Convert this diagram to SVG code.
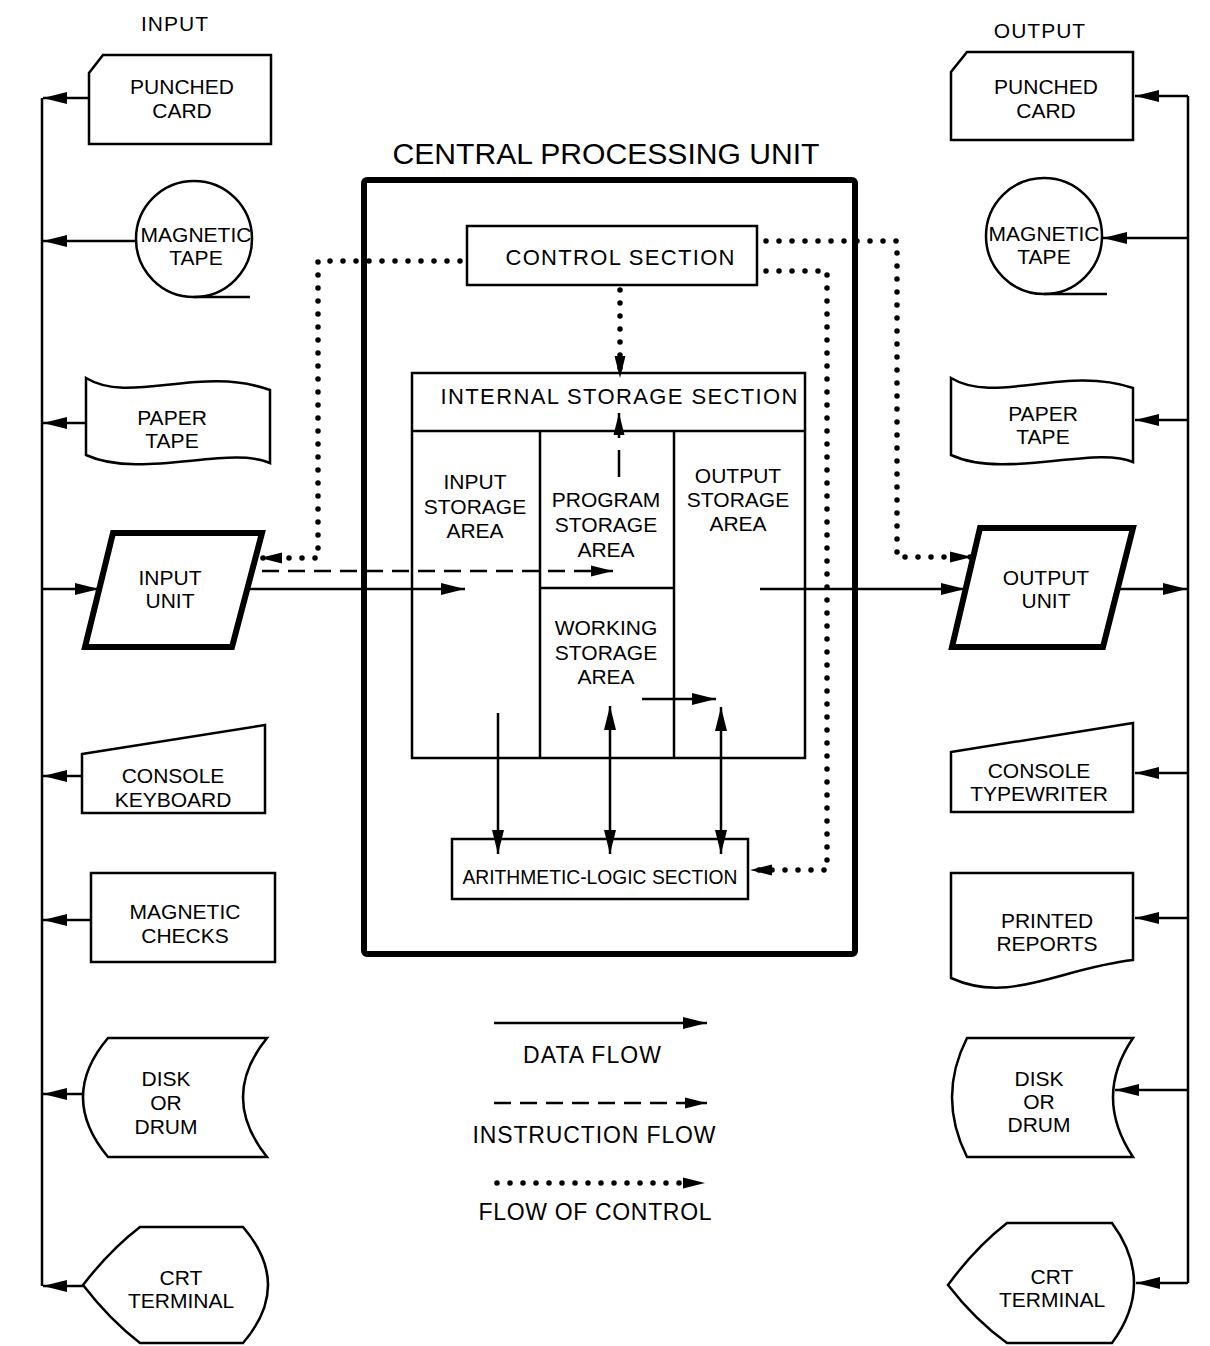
<svg xmlns="http://www.w3.org/2000/svg" width="1210" height="1346" viewBox="0 0 1210 1346">
<defs>
<style>
text{font-family:"Liberation Sans",Arial,sans-serif;font-size:21px;fill:#000;text-anchor:middle}
.shape{fill:#fff;stroke:#000;stroke-width:2.5;stroke-linejoin:miter}
.thick{fill:#fff;stroke:#000;stroke-width:6;stroke-linejoin:miter}
.line{fill:none;stroke:#000;stroke-width:2.5}
.data{fill:none;stroke:#000;stroke-width:2.5;marker-end:url(#arr)}
.dash{fill:none;stroke:#000;stroke-width:2.5;stroke-dasharray:17 9;marker-end:url(#arrS)}
.dot{fill:none;stroke:#000;stroke-width:5.5;stroke-dasharray:0 13;stroke-linecap:round;marker-end:url(#arrS)}
.both{fill:none;stroke:#000;stroke-width:2.5;marker-end:url(#arr);marker-start:url(#arr)}
</style>
<marker id="arr" markerUnits="userSpaceOnUse" markerWidth="24" markerHeight="12" refX="24" refY="6" orient="auto-start-reverse"><path d="M0,0 L24,6 L0,12 Z" fill="#000"/></marker>
<marker id="arrS" markerUnits="userSpaceOnUse" markerWidth="22" markerHeight="12" refX="22" refY="6" orient="auto"><path d="M0,0.5 L22,6 L0,11.5 Z" fill="#000"/></marker>
</defs>
<rect width="1210" height="1346" fill="#fff"/>

<text x="175" y="31" letter-spacing="1">INPUT</text>
<text x="1040" y="38" letter-spacing="1">OUTPUT</text>

<g id="cpu">
<text x="606" y="164" style="font-size:29px" textLength="427" lengthAdjust="spacingAndGlyphs">CENTRAL PROCESSING UNIT</text>
<rect x="364" y="180" width="491" height="774" rx="3" class="thick" fill="none"/>
</g>

<g id="control-section">
<rect x="467" y="226" width="290" height="59" class="shape"/>
<text x="620" y="265" style="font-size:22px" textLength="229" lengthAdjust="spacing">CONTROL SECTION</text>
</g>

<g id="internal-storage">
<rect x="412" y="373" width="393" height="385" class="shape"/>
<line x1="412" y1="431" x2="805" y2="431" class="line"/>
<line x1="540" y1="431" x2="540" y2="758" class="line"/>
<line x1="674" y1="431" x2="674" y2="758" class="line"/>
<line x1="540" y1="588" x2="674" y2="588" class="line"/>
<text x="619" y="404" style="font-size:22px" textLength="357" lengthAdjust="spacing">INTERNAL STORAGE SECTION</text>
</g>
<g id="input-storage">
<text x="475" y="489">INPUT</text><text x="475" y="514">STORAGE</text><text x="475" y="538">AREA</text>
</g>
<g id="program-storage">
<text x="606" y="507">PROGRAM</text><text x="606" y="532">STORAGE</text><text x="606" y="557">AREA</text>
</g>
<g id="output-storage">
<text x="738" y="483">OUTPUT</text><text x="738" y="507">STORAGE</text><text x="738" y="531">AREA</text>
</g>
<g id="working-storage">
<text x="606" y="635">WORKING</text><text x="606" y="660">STORAGE</text><text x="606" y="684">AREA</text>
</g>

<g id="alu">
<rect x="452" y="839" width="296" height="60" class="shape"/>
<text x="600" y="884" textLength="275" lengthAdjust="spacingAndGlyphs">ARITHMETIC-LOGIC SECTION</text>
</g>

<!-- left column -->
<g id="in-punched-card">
<path d="M103,55 L271,55 L271,144 L89,144 L89,73 Z" class="shape"/>
<text x="182" y="94">PUNCHED</text><text x="182" y="118">CARD</text>
</g>
<g id="in-magnetic-tape">
<circle cx="194" cy="239" r="58" class="shape"/>
<line x1="194" y1="297" x2="250" y2="297" class="line"/>
<text x="196" y="242">MAGNETIC</text><text x="196" y="265">TAPE</text>
</g>
<g id="in-paper-tape">
<path d="M86,378 C130,405 200,365 270,390 L270,463 C230,445 140,480 86,455 Z" class="shape"/>
<text x="172" y="425">PAPER</text><text x="172" y="448">TAPE</text>
</g>
<g id="input-unit">
<path d="M113,533 L262,533 L232,647 L85,647 Z" class="thick"/>
<text x="170" y="585">INPUT</text><text x="170" y="608">UNIT</text>
</g>
<g id="console-keyboard">
<path d="M82,754 L265,725 L265,813 L82,813 Z" class="shape"/>
<text x="173" y="783">CONSOLE</text><text x="173" y="807">KEYBOARD</text>
</g>
<g id="magnetic-checks">
<rect x="91" y="873" width="184" height="89" class="shape"/>
<text x="185" y="919">MAGNETIC</text><text x="185" y="943">CHECKS</text>
</g>
<g id="in-disk">
<path d="M108,1038 L267,1038 Q219,1097 267,1157 L108,1157 Q58,1097 108,1038 Z" class="shape"/>
<text x="166" y="1086">DISK</text><text x="166" y="1110">OR</text><text x="166" y="1134">DRUM</text>
</g>
<g id="in-crt">
<path d="M83,1285 Q110,1250 140,1227 L243,1227 Q293,1285 243,1343 L140,1343 Q110,1320 83,1285 Z" class="shape"/>
<text x="181" y="1285">CRT</text><text x="181" y="1308">TERMINAL</text>
</g>

<!-- right column -->
<g id="out-punched-card">
<path d="M967,52 L1133,52 L1133,140 L951,140 L951,72 Z" class="shape"/>
<text x="1046" y="94">PUNCHED</text><text x="1046" y="118">CARD</text>
</g>
<g id="out-magnetic-tape">
<circle cx="1044" cy="236" r="58" class="shape"/>
<line x1="1044" y1="294" x2="1107" y2="294" class="line"/>
<text x="1044" y="241">MAGNETIC</text><text x="1044" y="264">TAPE</text>
</g>
<g id="out-paper-tape">
<path d="M951,378 C995,405 1065,365 1133,388 L1133,462 C1095,445 1005,480 951,455 Z" class="shape"/>
<text x="1043" y="421">PAPER</text><text x="1043" y="444">TAPE</text>
</g>
<g id="output-unit">
<path d="M980,528 L1133,528 L1103,647 L952,647 Z" class="thick"/>
<text x="1046" y="585">OUTPUT</text><text x="1046" y="608">UNIT</text>
</g>
<g id="console-typewriter">
<path d="M951,752 L1133,723 L1133,812 L951,812 Z" class="shape"/>
<text x="1039" y="778">CONSOLE</text><text x="1039" y="801">TYPEWRITER</text>
</g>
<g id="printed-reports">
<path d="M951,873 L1133,873 L1133,960 C1060,968 1010,1005 951,978 Z" class="shape"/>
<text x="1047" y="928">PRINTED</text><text x="1047" y="951">REPORTS</text>
</g>
<g id="out-disk">
<path d="M967,1038 L1133,1038 Q1093,1097 1133,1157 L967,1157 Q937,1097 967,1038 Z" class="shape"/>
<text x="1039" y="1086">DISK</text><text x="1039" y="1109">OR</text><text x="1039" y="1132">DRUM</text>
</g>
<g id="out-crt">
<path d="M948,1285 Q975,1248 1007,1223 L1112,1223 Q1156,1283 1112,1343 L1007,1343 Q975,1320 948,1285 Z" class="shape"/>
<text x="1052" y="1284">CRT</text><text x="1052" y="1307">TERMINAL</text>
</g>

<g id="connectors">
<!-- left bus -->
<line x1="42" y1="98" x2="42" y2="1286" class="line"/>
<line x1="89" y1="98" x2="43" y2="98" class="data"/>
<line x1="136" y1="241" x2="43" y2="241" class="data"/>
<line x1="86" y1="423" x2="43" y2="423" class="data"/>
<line x1="42" y1="589" x2="99" y2="589" class="data"/>
<line x1="82" y1="776" x2="43" y2="776" class="data"/>
<line x1="91" y1="920" x2="43" y2="920" class="data"/>
<line x1="83" y1="1094" x2="43" y2="1094" class="data"/>
<line x1="83" y1="1286" x2="43" y2="1286" class="data"/>
<!-- right bus -->
<line x1="1188" y1="96" x2="1188" y2="1283" class="line"/>
<line x1="1188" y1="96" x2="1135" y2="96" class="data"/>
<line x1="1188" y1="238" x2="1103" y2="238" class="data"/>
<line x1="1188" y1="420" x2="1135" y2="420" class="data"/>
<line x1="1118" y1="589" x2="1187" y2="589" class="data"/>
<line x1="1188" y1="773" x2="1135" y2="773" class="data"/>
<line x1="1188" y1="918" x2="1135" y2="918" class="data"/>
<line x1="1188" y1="1090" x2="1115" y2="1090" class="data"/>
<line x1="1188" y1="1283" x2="1136" y2="1283" class="data"/>
<!-- CPU data flows -->
<line x1="248" y1="589" x2="465" y2="589" class="data"/>
<line x1="760" y1="589" x2="965" y2="589" class="data"/>
<line x1="642" y1="699" x2="716" y2="699" class="data"/>
<line x1="498" y1="713" x2="498" y2="854" class="data"/>
<line x1="610" y1="706" x2="610" y2="854" class="both"/>
<line x1="721" y1="707" x2="721" y2="854" class="both"/>
<!-- instruction flows -->
<line x1="262" y1="571" x2="613" y2="571" class="dash"/>
<line x1="619" y1="477" x2="619" y2="413" class="dash" style="stroke-dasharray:27 12"/>
<!-- flow of control -->
<path d="M460,261 L318,261 L318,558 L260,558" class="dot"/>
<path d="M620,290 L620,378" class="dot"/>
<path d="M766,241 L897,241 L897,557 L972,557" class="dot"/>
<path d="M766,271 L827,271 L827,870 L750,870" class="dot"/>
</g>

<g id="legend">
<line x1="494" y1="1023" x2="707" y2="1023" class="data"/>
<text x="592" y="1063" style="font-size:23px" textLength="138" lengthAdjust="spacing">DATA FLOW</text>
<line x1="494" y1="1103" x2="707" y2="1103" class="dash"/>
<text x="594" y="1143" style="font-size:23px" textLength="243" lengthAdjust="spacing">INSTRUCTION FLOW</text>
<line x1="497" y1="1183" x2="705" y2="1183" class="dot"/>
<text x="595" y="1220" style="font-size:23px" textLength="233" lengthAdjust="spacing">FLOW OF CONTROL</text>
</g>
</svg>
